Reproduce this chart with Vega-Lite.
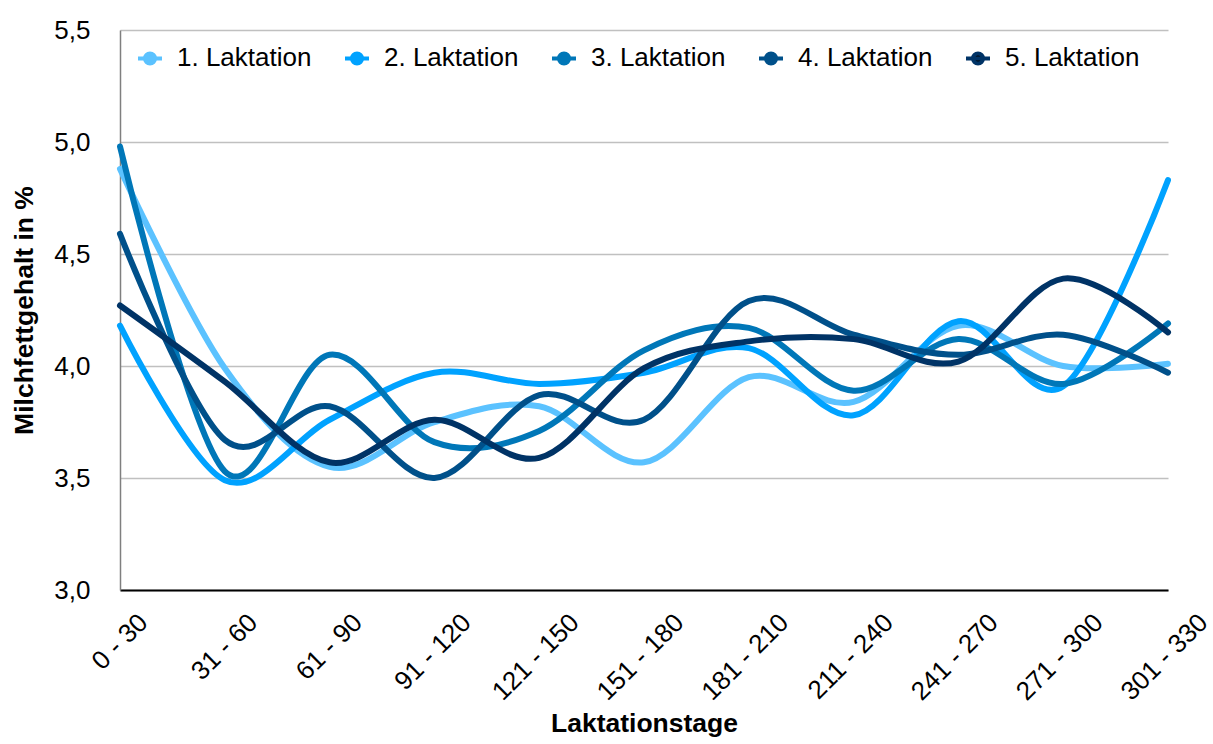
{
  "$schema": "https://vega.github.io/schema/vega-lite/v6.json",
  "width": 1048,
  "height": 560,
  "autosize": "none",
  "padding": {"left": 120, "top": 30, "right": 45, "bottom": 154},
  "background": "white",
  "config": {"view": {"stroke": null}, "font": "Liberation Sans"},
  "data": {
    "values": [
      {"stage": "0 - 30", "series": "1. Laktation", "fat": 4.88},
      {"stage": "31 - 60", "series": "1. Laktation", "fat": 3.99},
      {"stage": "61 - 90", "series": "1. Laktation", "fat": 3.55},
      {"stage": "91 - 120", "series": "1. Laktation", "fat": 3.75},
      {"stage": "121 - 150", "series": "1. Laktation", "fat": 3.82},
      {"stage": "151 - 180", "series": "1. Laktation", "fat": 3.57},
      {"stage": "181 - 210", "series": "1. Laktation", "fat": 3.95},
      {"stage": "211 - 240", "series": "1. Laktation", "fat": 3.84},
      {"stage": "241 - 270", "series": "1. Laktation", "fat": 4.18},
      {"stage": "271 - 300", "series": "1. Laktation", "fat": 4.0},
      {"stage": "301 - 330", "series": "1. Laktation", "fat": 4.01},
      {"stage": "0 - 30", "series": "2. Laktation", "fat": 4.18},
      {"stage": "31 - 60", "series": "2. Laktation", "fat": 3.49},
      {"stage": "61 - 90", "series": "2. Laktation", "fat": 3.76},
      {"stage": "91 - 120", "series": "2. Laktation", "fat": 3.97},
      {"stage": "121 - 150", "series": "2. Laktation", "fat": 3.92},
      {"stage": "151 - 180", "series": "2. Laktation", "fat": 3.97},
      {"stage": "181 - 210", "series": "2. Laktation", "fat": 4.08},
      {"stage": "211 - 240", "series": "2. Laktation", "fat": 3.78},
      {"stage": "241 - 270", "series": "2. Laktation", "fat": 4.2},
      {"stage": "271 - 300", "series": "2. Laktation", "fat": 3.91},
      {"stage": "301 - 330", "series": "2. Laktation", "fat": 4.83},
      {"stage": "0 - 30", "series": "3. Laktation", "fat": 4.98},
      {"stage": "31 - 60", "series": "3. Laktation", "fat": 3.53},
      {"stage": "61 - 90", "series": "3. Laktation", "fat": 4.05},
      {"stage": "91 - 120", "series": "3. Laktation", "fat": 3.66},
      {"stage": "121 - 150", "series": "3. Laktation", "fat": 3.71},
      {"stage": "151 - 180", "series": "3. Laktation", "fat": 4.07},
      {"stage": "181 - 210", "series": "3. Laktation", "fat": 4.17},
      {"stage": "211 - 240", "series": "3. Laktation", "fat": 3.89},
      {"stage": "241 - 270", "series": "3. Laktation", "fat": 4.12},
      {"stage": "271 - 300", "series": "3. Laktation", "fat": 3.92},
      {"stage": "301 - 330", "series": "3. Laktation", "fat": 4.19},
      {"stage": "0 - 30", "series": "4. Laktation", "fat": 4.59},
      {"stage": "31 - 60", "series": "4. Laktation", "fat": 3.67},
      {"stage": "61 - 90", "series": "4. Laktation", "fat": 3.82},
      {"stage": "91 - 120", "series": "4. Laktation", "fat": 3.5},
      {"stage": "121 - 150", "series": "4. Laktation", "fat": 3.87},
      {"stage": "151 - 180", "series": "4. Laktation", "fat": 3.76},
      {"stage": "181 - 210", "series": "4. Laktation", "fat": 4.29},
      {"stage": "211 - 240", "series": "4. Laktation", "fat": 4.14},
      {"stage": "241 - 270", "series": "4. Laktation", "fat": 4.05},
      {"stage": "271 - 300", "series": "4. Laktation", "fat": 4.14},
      {"stage": "301 - 330", "series": "4. Laktation", "fat": 3.97},
      {"stage": "0 - 30", "series": "5. Laktation", "fat": 4.27},
      {"stage": "31 - 60", "series": "5. Laktation", "fat": 3.93},
      {"stage": "61 - 90", "series": "5. Laktation", "fat": 3.57},
      {"stage": "91 - 120", "series": "5. Laktation", "fat": 3.76},
      {"stage": "121 - 150", "series": "5. Laktation", "fat": 3.59},
      {"stage": "151 - 180", "series": "5. Laktation", "fat": 3.99},
      {"stage": "181 - 210", "series": "5. Laktation", "fat": 4.11},
      {"stage": "211 - 240", "series": "5. Laktation", "fat": 4.12},
      {"stage": "241 - 270", "series": "5. Laktation", "fat": 4.02},
      {"stage": "271 - 300", "series": "5. Laktation", "fat": 4.39},
      {"stage": "301 - 330", "series": "5. Laktation", "fat": 4.15}
    ]
  },
  "mark": {"type": "line", "interpolate": "cardinal", "strokeWidth": 6, "strokeCap": "round", "strokeJoin": "round"},
  "encoding": {
    "x": {
      "field": "stage",
      "type": "ordinal",
      "sort": ["0 - 30", "31 - 60", "61 - 90", "91 - 120", "121 - 150", "151 - 180", "181 - 210", "211 - 240", "241 - 270", "271 - 300", "301 - 330"],
      "scale": {"type": "point", "padding": 0},
      "axis": {
        "title": "Laktationstage",
        "titleFontSize": 26.5,
        "titleFontWeight": "bold",
        "titleColor": "black",
        "titleX": 524,
        "titleY": 120,
        "labelAngle": -45,
        "labelAlign": "right",
        "labelBaseline": "middle",
        "labelFontSize": 26,
        "labelColor": "black",
        "labelPadding": 28,
        "labelOffset": {
          "condition": [
            {"test": "length(datum.label) == 6", "value": 23},
            {"test": "length(datum.label) == 7", "value": 28},
            {"test": "length(datum.label) == 8", "value": 32}
          ],
          "value": 35
        },
        "labelOverlap": false,
        "labelFlush": false,
        "labelBound": false,
        "ticks": false,
        "tickSize": 0,
        "grid": false,
        "domainColor": "black",
        "domainWidth": 2
      }
    },
    "y": {
      "field": "fat",
      "type": "quantitative",
      "scale": {"domain": [3, 5.5], "nice": false, "zero": false},
      "axis": {
        "title": "Milchfettgehalt in %",
        "titleFontSize": 26.5,
        "titleFontWeight": "bold",
        "titleColor": "black",
        "titleX": -82,
        "titleY": 280,
        "values": [3, 3.5, 4, 4.5, 5, 5.5],
        "labelExpr": "replace(format(datum.value, '.1f'), '.', ',')",
        "labelFontSize": 26,
        "labelColor": "black",
        "labelPadding": 30,
        "ticks": false,
        "tickSize": 0,
        "domainColor": "#7f7f7f",
        "domainWidth": 1.5,
        "gridColor": "#c0c0c0",
        "gridWidth": 1.5
      }
    },
    "color": {
      "field": "series",
      "type": "nominal",
      "scale": {
        "domain": ["1. Laktation", "2. Laktation", "3. Laktation", "4. Laktation", "5. Laktation"],
        "range": ["#5bc2ff", "#00a2ff", "#0077b8", "#00508a", "#003366"]
      },
      "legend": {
        "title": null,
        "orient": "none",
        "legendX": 16,
        "legendY": 14,
        "direction": "horizontal",
        "labelFontSize": 26,
        "labelColor": "black",
        "labelOffset": 13,
        "columnPadding": 25,
        "symbolType": "M-1,0L1,0M-0.42,0A0.42,0.42,0,1,1,0.42,0A0.42,0.42,0,1,1,-0.42,0Z",
        "symbolSize": 576,
        "symbolStrokeWidth": 4,
        "encode": {
          "symbols": {
            "update": {
              "fill": {"signal": "datum.value == '5. Laktation' ? 'black' : scale('color', datum.value)"},
              "fillOpacity": {"value": 1}
            }
          }
        }
      }
    }
  }
}
